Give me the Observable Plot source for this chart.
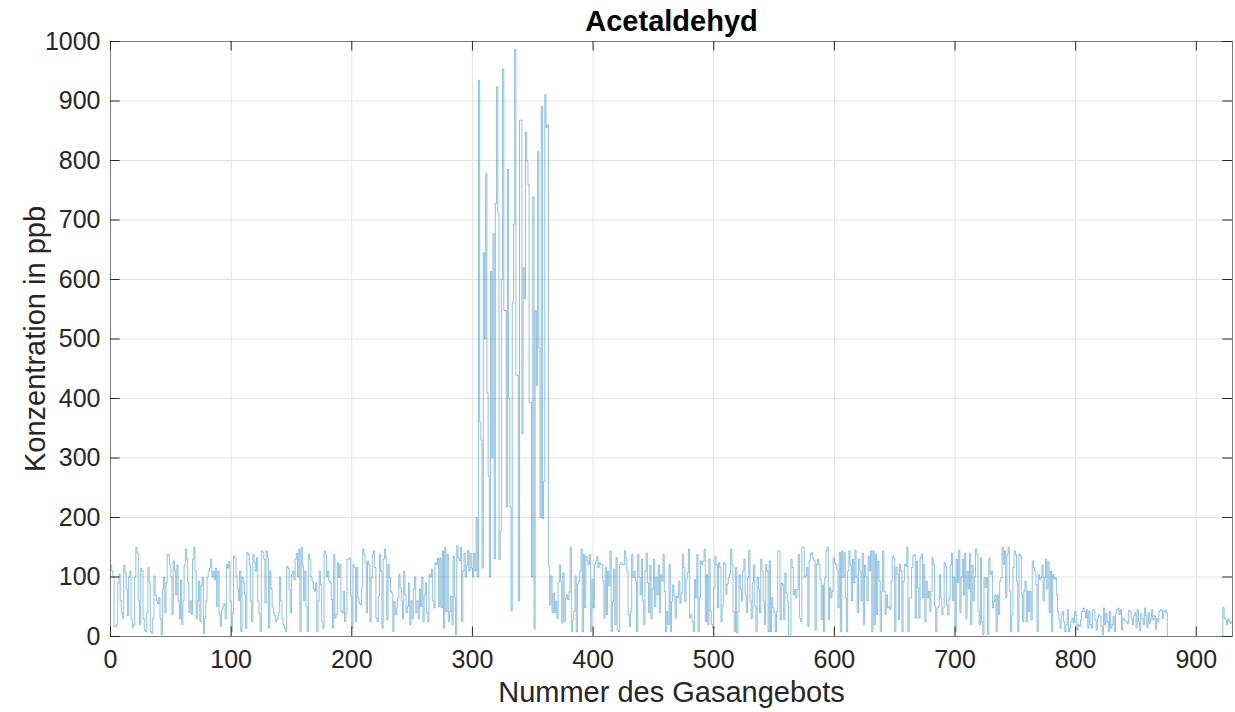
<!DOCTYPE html>
<html>
<head>
<meta charset="utf-8">
<script src="https://cdn.jsdelivr.net/npm/d3@7"></script>
<script src="https://cdn.jsdelivr.net/npm/@observablehq/plot@0.6"></script>
<style>
  html, body { margin: 0; padding: 0; background: #fff; }
  #chart { width: 1235px; height: 712px; }
</style>
</head>
<body>
<div id="chart"></div>
<script>
// ---- Data (one value per Gasangebot) ----
const titleText = "Acetaldehyd";
const xLabel = "Nummer des Gasangebots";
const yLabel = "Konzentration in ppb";
const xTicks = [0, 100, 200, 300, 400, 500, 600, 700, 800, 900];
const yTicks = [0, 100, 200, 300, 400, 500, 600, 700, 800, 900, 1000];

// Gasangebot 0–85
const segA = [120,110,100,17,17,20,90,105,60,40,30,120,107,80,35,100,110,30,15,20,100,150,140,60,20,115,110,30,10,8,40,116,90,8,5,30,102,70,60,55,65,30,3,80,100,40,90,138,136,120,100,37,127,110,70,120,60,30,95,20,60,120,147,130,90,40,60,37,130,150,110,30,60,93,25,85,100,5,30,60,100,110,115,130,100,110];
// 86–173
const segB = [95,115,50,110,37,17,45,50,55,30,121,115,126,60,8,40,135,132,100,80,60,110,8,100,90,70,14,141,138,120,60,25,138,125,110,132,60,40,8,144,142,130,56,144,132,14,110,80,50,40,35,25,30,40,100,60,30,20,14,8,118,115,79,40,104,110,95,130,140,100,147,8,150,120,60,110,50,8,138,130,100,93,80,76,90,8,60,110];
// 174–260
const segC = [87,25,14,144,138,100,110,93,90,62,14,138,31,37,124,99,121,42,40,76,25,40,130,130,132,68,14,121,116,25,116,65,56,53,82,147,138,124,40,127,121,25,99,138,144,116,31,25,68,138,110,14,130,147,132,28,121,99,76,73,8,59,37,48,65,104,82,60,30,110,70,40,50,90,20,60,30,80,100,40,60,30,80,50,100,25,70];
// 261–304
const segD = [90,40,25,104,100,113,60,48,124,121,132,50,132,48,144,14,150,42,138,25,42,68,20,135,65,3,153,132,127,150,25,110,140,100,120,145,110,140,115,100,140,110,200,100];
// 305–372 (Spitzen)
const segE = [935,360,330,115,645,500,778,410,270,100,614,300,677,130,728,924,710,129,178,600,954,548,548,218,785,400,218,43,561,693,987,439,439,60,868,868,341,620,568,848,799,759,393,393,100,739,13,548,422,815,485,200,891,198,261,911,855,860,119,53,102,40,73,40,60,30,90,120];
// 373–455
const segF = [93,23,107,25,65,70,62,75,150,8,28,42,102,8,88,93,110,147,8,138,48,135,127,121,138,8,96,48,121,127,135,116,124,121,121,93,31,116,37,110,85,144,8,59,113,20,132,11,8,121,124,121,121,144,132,110,37,17,42,138,99,110,93,8,138,100,70,130,60,20,110,140,90,40,120,30,80,130,50,100,70,120,40];
// 456–542
const segG = [104,93,138,76,8,42,20,121,8,59,87,68,31,68,65,93,56,73,138,116,59,96,107,147,31,37,25,8,96,65,138,8,65,127,121,127,147,25,104,20,130,42,20,14,82,135,121,48,124,116,25,53,124,121,71,88,99,104,147,121,42,8,116,6,42,104,80,60,110,130,70,40,100,145,60,30,90,120,50,8,100,80,40,130,110,60,20];
// 543–629
const segH = [121,110,8,127,8,65,48,40,8,42,144,144,28,90,87,28,107,73,60,3,3,130,116,70,79,65,79,138,31,25,150,150,99,102,116,17,127,138,141,132,127,11,121,130,121,96,28,87,8,99,144,150,28,82,65,76,132,124,121,113,48,141,8,144,99,141,65,8,110,144,120,60,130,90,145,100,40,130,110,60,140,20,120,100,60,135,110];
// 630–716
const segI = [144,8,144,20,138,37,127,93,8,76,144,76,37,70,48,51,45,93,135,132,8,116,104,28,121,110,8,93,121,118,150,8,65,65,116,135,138,31,127,82,31,132,138,65,121,25,93,65,76,42,76,132,121,51,8,48,51,104,65,37,48,124,118,53,36,65,120,140,60,100,8,130,90,145,40,100,130,70,140,30,110,80,140,20,120,60,100];
// 717–785
const segJ = [147,138,42,20,132,25,3,99,82,99,3,132,104,110,48,59,70,8,70,37,93,99,150,121,144,65,138,150,76,8,37,116,144,138,93,8,138,135,70,25,76,93,25,76,42,76,28,127,116,110,87,8,104,96,99,120,60,100,130,80,125,40,110,8,104,96,99,70,42];
// 786–876 (niedriges Niveau)
const segK = [28,14,37,42,25,8,20,45,8,14,25,31,23,42,36,11,20,17,28,42,48,42,31,45,14,42,20,14,45,45,28,11,31,37,34,17,3,48,20,39,25,8,42,14,20,34,8,39,45,48,37,45,11,31,28,25,25,22,44,42,30,20,35,40,15,45,25,10,38,30,20,48,35,15,40,22,30,45,28,35,12,30,25,42,45,44,30,42,44,40,0];
// 877–921
const segL = [0,0,0,0,0,0,0,0,0,0,0,0,0,0,0,0,0,0,0,0,0,0,0,0,0,0,0,0,0,0,0,0,0,0,0,0,0,0,0,0,0,0,0,0,0];
// 922–929
const segM = [49,31,28,20,30,25,22,25];

const values = [].concat(segA, segB, segC, segD, segE, segF, segG, segH, segI, segJ, segK, segL, segM);
const series = values.map((v, i) => ({nr: i, ppb: v}));
series.push({nr: values.length, ppb: values[values.length - 1]});

const ink = "#262626";
const font = "'Liberation Sans', Arial, Helvetica, sans-serif";

const chart = Plot.plot({
  width: 1235,
  height: 712,
  marginLeft: 110,
  marginRight: 3,
  marginTop: 41,
  marginBottom: 76,
  style: {fontFamily: font, background: "#fff", color: ink},
  x: {domain: [0, 930], label: null},
  y: {domain: [0, 1000], label: null},
  marks: [
    Plot.gridX(xTicks, {stroke: "#e3e3e3", strokeOpacity: 1, strokeWidth: 1}),
    Plot.gridY(yTicks, {stroke: "#e3e3e3", strokeOpacity: 1, strokeWidth: 1}),
    Plot.line(series, {x: "nr", y: "ppb", curve: "step-after", stroke: "#0072BD", strokeWidth: 0.8, strokeOpacity: 0.55}),
    Plot.frame({stroke: "#7a7a7a", strokeWidth: 1}),
    // inward ticks (MATLAB box style)
    Plot.ruleX(xTicks, {x: d => d, y1: 0, y2: 16, stroke: ink, strokeWidth: 1}),
    Plot.ruleX(xTicks, {x: d => d, y1: 984, y2: 1000, stroke: ink, strokeWidth: 1}),
    Plot.ruleY(yTicks, {y: d => d, x1: 0, x2: 8, stroke: ink, strokeWidth: 1}),
    Plot.ruleY(yTicks, {y: d => d, x1: 922, x2: 930, stroke: ink, strokeWidth: 1}),
    Plot.axisX(xTicks, {tickSize: 0, tickPadding: 14, fontSize: 25, fill: ink, label: null, tickFormat: d => String(d)}),
    Plot.axisY(yTicks, {tickSize: 0, tickPadding: 10, fontSize: 25, fill: ink, label: null, tickFormat: d => String(d)}),
    Plot.text([titleText], {frameAnchor: "top", lineAnchor: "middle", text: d => d, dy: -20, fontSize: 29, fontWeight: "bold", fill: "#000"}),
    Plot.text([xLabel], {frameAnchor: "bottom", lineAnchor: "middle", text: d => d, dy: 56, fontSize: 29, fill: ink}),
    Plot.text([yLabel], {frameAnchor: "left", lineAnchor: "middle", textAnchor: "middle", text: d => d, dx: -75, rotate: -90, fontSize: 29, fill: ink})
  ]
});
document.getElementById("chart").appendChild(chart);
</script>
</body>
</html>
